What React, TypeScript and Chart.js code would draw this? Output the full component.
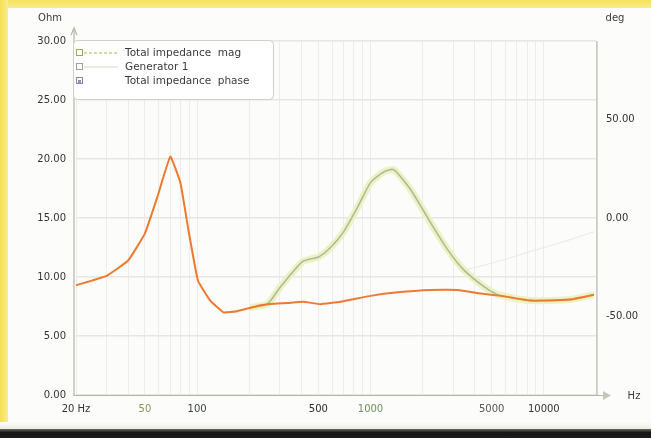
import React, { useEffect, useRef } from "react";
import { Chart, registerables } from "chart.js";

Chart.register(...registerables);

// ---- data ----
const magFreqs = [20, 30, 40, 50, 59, 70, 80, 89, 101, 119, 142, 170, 232, 254, 332, 410, 514, 672, 1000, 1434, 2223, 3185, 4329, 5650, 8420, 9620, 14300, 19460];
const magValues = [9.3, 10.1, 11.4, 13.7, 16.8, 20.2, 18.0, 14.0, 9.7, 8.0, 7.0, 7.1, 7.6, 7.7, 7.8, 7.9, 7.7, 7.9, 8.4, 8.7, 8.9, 8.9, 8.6, 8.4, 8.0, 8.0, 8.1, 8.5];

const genFreqs = [200, 254, 302, 405, 501, 588, 698, 842, 1000, 1191, 1360, 1706, 2223, 2792, 3452, 4500, 5430, 8420, 14300, 19460];
const genValues = [7.4, 7.7, 9.15, 11.3, 11.7, 12.5, 13.8, 15.9, 18.0, 18.9, 19.1, 17.4, 14.6, 12.3, 10.6, 9.2, 8.5, 8.0, 8.1, 8.5];

const phaseFreqs = [3300, 5000, 8400, 13000, 19500];
const phaseValues = [-27, -23, -17, -12, -7];

const xTickValues = [20, 50, 100, 500, 1000, 5000, 10000];
const xTickLabels = ["20 Hz", "50", "100", "500", "1000", "5000", "10000"];
const xTickColors = ["#333333", "#7d9a55", "#34463c", "#2a2a2a", "#6f8f5a", "#555555", "#333333"];
const rightTicks = [-50, 0, 50];
const legendLabels = ["Total impedance  mag", "Generator 1", "Total impedance  phase"];

const FONT = "DejaVu Sans";

function gridFreqs(): number[] {
  const out: number[] = [];
  for (let d = 10; d <= 10000; d *= 10) {
    for (let m = 1; m <= 9; m++) {
      const v = m * d;
      if (v >= 20 && v <= 20000) out.push(v);
    }
  }
  out.push(20000);
  return out;
}

const overlay = {
  id: "overlay",
  afterDraw(chart: any) {
    const ctx = chart.ctx as CanvasRenderingContext2D;
    const { left, right, top, bottom } = chart.chartArea;
    ctx.save();
    // left axis
    ctx.strokeStyle = "#bab3a2";
    ctx.lineWidth = 1.2;
    ctx.beginPath();
    ctx.moveTo(left - 2, bottom + 1);
    ctx.lineTo(left - 2, top - 12);
    ctx.stroke();
    ctx.beginPath();
    ctx.moveTo(left - 5, top - 6);
    ctx.lineTo(left - 2, top - 13);
    ctx.lineTo(left + 1, top - 6);
    ctx.stroke();
    // right axis
    ctx.strokeStyle = "#b9bab0";
    ctx.beginPath();
    ctx.moveTo(right + 1, top);
    ctx.lineTo(right + 1, bottom);
    ctx.stroke();
    // bottom axis with arrow
    ctx.strokeStyle = "#b4b4aa";
    ctx.beginPath();
    ctx.moveTo(left - 2, bottom + 0.5);
    ctx.lineTo(right + 10, bottom + 0.5);
    ctx.stroke();
    ctx.fillStyle = "#c4c8b8";
    ctx.beginPath();
    ctx.moveTo(right + 7, bottom - 4);
    ctx.lineTo(right + 15, bottom + 0.5);
    ctx.lineTo(right + 7, bottom + 5);
    ctx.closePath();
    ctx.fill();

    // titles
    ctx.fillStyle = "#3a3a3a";
    ctx.font = `10px ${FONT}`;
    ctx.textBaseline = "middle";
    ctx.textAlign = "center";
    ctx.fillText("Ohm", 50, 18);
    ctx.fillText("deg", 615, 18);
    ctx.fillText("Hz", 634, 396);

    // legend
    const bx = 73, by = 40, bw = 200, bh = 59;
    ctx.fillStyle = "#ffffff";
    ctx.strokeStyle = "#cfcfc6";
    ctx.lineWidth = 1;
    ctx.beginPath();
    (ctx as any).roundRect(bx + 0.5, by + 0.5, bw, bh, 4);
    ctx.fill();
    ctx.stroke();
    const rows = [53, 67, 81];
    const boxColors = ["#8fb06a", "#a0a098", "#7f8aa8"];
    const lineColors = ["#c9e0a0", "#e4e6d8", null];
    rows.forEach((ry, i) => {
      ctx.strokeStyle = boxColors[i];
      ctx.lineWidth = 1;
      ctx.strokeRect(76.5, ry - 3.5, 6, 6);
      if (i === 2) {
        ctx.fillStyle = "#8a94b0";
        ctx.fillRect(78, ry - 1, 3, 3);
      }
      const lc = lineColors[i];
      if (lc) {
        ctx.strokeStyle = lc;
        ctx.lineWidth = i === 0 ? 2 : 1.5;
        if (i === 0) ctx.setLineDash([3, 2]);
        ctx.beginPath();
        ctx.moveTo(84, ry);
        ctx.lineTo(118, ry);
        ctx.stroke();
        ctx.setLineDash([]);
      }
      ctx.fillStyle = "#3a3a3a";
      ctx.textAlign = "left";
      ctx.font = `10.5px ${FONT}`;
      ctx.fillText(legendLabels[i], 125, ry);
    });
    ctx.restore();
  },
};

export default function App() {
  const ref = useRef<HTMLCanvasElement>(null);
  useEffect(() => {
    if (!ref.current) return;
    const labelMap: Record<number, string> = {};
    const colorMap: Record<number, string> = {};
    xTickValues.forEach((v, i) => {
      labelMap[v] = xTickLabels[i];
      colorMap[v] = xTickColors[i];
    });
    const chart = new Chart(ref.current, {
      type: "line",
      data: {
        datasets: [
          {
            label: "mag",
            data: magFreqs.map((f, i) => ({ x: f, y: magValues[i] })),
            borderColor: "#ee7a30",
            borderWidth: 2,
            pointRadius: 0,
            tension: 0.1,
            yAxisID: "y",
          },
          {
            label: "gen-center",
            data: genFreqs.map((f, i) => ({ x: f, y: genValues[i] })),
            borderColor: "#b0ba9a",
            borderWidth: 1.6,
            pointRadius: 0,
            tension: 0.2,
            yAxisID: "y",
          },
          {
            label: "gen-halo",
            data: genFreqs.map((f, i) => ({ x: f, y: genValues[i] })),
            borderColor: "#ecf2c4",
            borderWidth: 7,
            pointRadius: 0,
            tension: 0.2,
            yAxisID: "y",
          },
          {
            label: "phase",
            data: phaseFreqs.map((f, i) => ({ x: f, y: phaseValues[i] })),
            borderColor: "#ebebe8",
            borderWidth: 1.2,
            pointRadius: 0,
            tension: 0.2,
            yAxisID: "y2",
          },
        ],
      },
      options: {
        responsive: false,
        animation: false,
        devicePixelRatio: 1,
        layout: { padding: { top: 41, left: 0, right: 0, bottom: 0 } },
        plugins: { legend: { display: false }, tooltip: { enabled: false } },
        scales: {
          x: {
            type: "logarithmic",
            min: 20,
            max: 20000,
            afterFit: (s: any) => { s.height = 43; },
            afterBuildTicks: (s: any) => { s.ticks = gridFreqs().map((v) => ({ value: v })); },
            ticks: {
              autoSkip: false,
              maxRotation: 0,
              padding: 8,
              font: { family: FONT, size: 10 },
              color: (c: any) => colorMap[c.tick?.value] || "#333333",
              callback: (v: any) => labelMap[v as number] ?? "",
            },
            grid: { color: "#ececea", lineWidth: 1, drawTicks: false },
            border: { display: false },
          },
          y: {
            position: "left",
            min: 0,
            max: 30,
            afterFit: (s: any) => { s.width = 76; },
            ticks: {
              stepSize: 5,
              padding: 10,
              font: { family: FONT, size: 10 },
              color: "#333333",
              callback: (v: any) => Number(v).toFixed(2),
            },
            grid: { color: "#e6e6e2", lineWidth: 1.5, drawTicks: false },
            border: { display: false },
          },
          y2: {
            position: "right",
            min: -90,
            max: 90,
            afterFit: (s: any) => { s.width = 55; },
            afterBuildTicks: (s: any) => { s.ticks = rightTicks.map((v) => ({ value: v })); },
            ticks: {
              padding: 10,
              font: { family: FONT, size: 10 },
              color: "#333333",
              callback: (v: any) => Number(v).toFixed(2),
            },
            grid: { display: false, drawTicks: false },
            border: { display: false },
          },
        },
      } as any,
      plugins: [overlay],
    });
    return () => chart.destroy();
  }, []);

  return (
    <div style={{ position: "fixed", left: 0, top: 0, width: 651, height: 438, overflow: "hidden", background: "#fcfcfa" }}>
      <div style={{ position: "absolute", left: 0, top: 0, width: 651, height: 8, background: "linear-gradient(#f6e35c, #f8ec8a)" }} />
      <div style={{ position: "absolute", left: 0, top: 0, width: 8, height: 430, background: "linear-gradient(90deg, #f5e04f, #f8ec90)" }} />
      <div style={{ position: "absolute", left: 0, top: 429, width: 651, height: 9, background: "linear-gradient(#6a6a60, #151515 40%, #1c1c1c)" }} />
      <div style={{ position: "absolute", left: 0, top: 422, width: 651, height: 7, background: "linear-gradient(#fcfcfa, #ecece6)" }} />
      <canvas ref={ref} width={651} height={438} style={{ position: "absolute", left: 0, top: 0, width: 651, height: 438 }} />
    </div>
  );
}
